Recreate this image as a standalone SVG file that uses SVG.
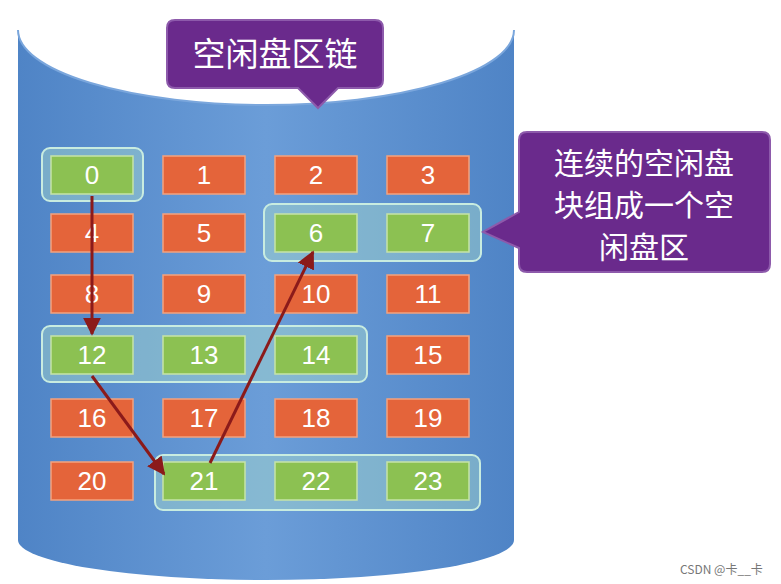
<svg xmlns="http://www.w3.org/2000/svg" width="781" height="584" viewBox="0 0 781 584">
<defs>
<linearGradient id="cyl" x1="0" x2="1" y1="0" y2="0">
<stop offset="0" stop-color="#4f84c6"/><stop offset="0.5" stop-color="#6b9dd8"/><stop offset="1" stop-color="#4f84c6"/>
</linearGradient>
<marker id="ah" viewBox="0 0 10 10" refX="9" refY="5" markerWidth="6" markerHeight="6" orient="auto"><path d="M0,0 L10,5 L0,10 z" fill="#8b1a1a"/></marker>
</defs>
<style>
.o{fill:#e4643a;stroke:#f3a27f;stroke-width:1.5}
.g{fill:#8cc152;stroke:#c6e4a8;stroke-width:1.5}
.t{font-family:"Liberation Sans",sans-serif;font-size:26px;fill:#fff;text-anchor:middle}
.grp{fill:#a8dccb;fill-opacity:0.45;stroke:#c8ece0;stroke-width:2}
.call{fill:#6a2a8c;stroke:#8d5aab;stroke-width:2}
.ct{font-family:"Noto Sans CJK SC",sans-serif;font-size:33px;fill:#fff;text-anchor:middle}
.cr{font-family:"Noto Sans CJK SC",sans-serif;font-size:30px;fill:#fff;text-anchor:middle}
.c{stroke:#8b1a1a;stroke-width:3;fill:none;marker-end:url(#ah)}
</style>
<rect width="781" height="584" fill="#fff"/>
<g id="cylinder">
<path d="M18,30 L18,540 A248,40 0 0 0 514,540 L514,30 Z" fill="url(#cyl)"/>
<ellipse cx="266" cy="30" rx="248" ry="75" fill="#fff"/>
<path d="M18,30 A248,75 0 0 0 514,30" fill="none" stroke="#7aa6dc" stroke-width="2"/>
</g>
<g id="groups">
<rect class="grp" x="42" y="148" width="101" height="53" rx="8"/>
<rect class="grp" x="264" y="204" width="217" height="57" rx="8"/>
<rect class="grp" x="42" y="326" width="325" height="56" rx="8"/>
<rect class="grp" x="155" y="455" width="325" height="55" rx="8"/>
</g>
<g id="cells">
<g id="n0"><rect class="g" x="51" y="156" width="82" height="38"/><text class="t" x="92" y="184">0</text></g>
<g id="n1"><rect class="o" x="163" y="156" width="82" height="38"/><text class="t" x="204" y="184">1</text></g>
<g id="n2"><rect class="o" x="275" y="156" width="82" height="38"/><text class="t" x="316" y="184">2</text></g>
<g id="n3"><rect class="o" x="387" y="156" width="82" height="38"/><text class="t" x="428" y="184">3</text></g>
<g id="n4"><rect class="o" x="51" y="214" width="82" height="38"/><text class="t" x="92" y="242">4</text></g>
<g id="n5"><rect class="o" x="163" y="214" width="82" height="38"/><text class="t" x="204" y="242">5</text></g>
<g id="n6"><rect class="g" x="275" y="214" width="82" height="38"/><text class="t" x="316" y="242">6</text></g>
<g id="n7"><rect class="g" x="387" y="214" width="82" height="38"/><text class="t" x="428" y="242">7</text></g>
<g id="n8"><rect class="o" x="51" y="275" width="82" height="38"/><text class="t" x="92" y="303">8</text></g>
<g id="n9"><rect class="o" x="163" y="275" width="82" height="38"/><text class="t" x="204" y="303">9</text></g>
<g id="n10"><rect class="o" x="275" y="275" width="82" height="38"/><text class="t" x="316" y="303">10</text></g>
<g id="n11"><rect class="o" x="387" y="275" width="82" height="38"/><text class="t" x="428" y="303">11</text></g>
<g id="n12"><rect class="g" x="51" y="336" width="82" height="38"/><text class="t" x="92" y="364">12</text></g>
<g id="n13"><rect class="g" x="163" y="336" width="82" height="38"/><text class="t" x="204" y="364">13</text></g>
<g id="n14"><rect class="g" x="275" y="336" width="82" height="38"/><text class="t" x="316" y="364">14</text></g>
<g id="n15"><rect class="o" x="387" y="336" width="82" height="38"/><text class="t" x="428" y="364">15</text></g>
<g id="n16"><rect class="o" x="51" y="399" width="82" height="38"/><text class="t" x="92" y="427">16</text></g>
<g id="n17"><rect class="o" x="163" y="399" width="82" height="38"/><text class="t" x="204" y="427">17</text></g>
<g id="n18"><rect class="o" x="275" y="399" width="82" height="38"/><text class="t" x="316" y="427">18</text></g>
<g id="n19"><rect class="o" x="387" y="399" width="82" height="38"/><text class="t" x="428" y="427">19</text></g>
<g id="n20"><rect class="o" x="51" y="462" width="82" height="38"/><text class="t" x="92" y="490">20</text></g>
<g id="n21"><rect class="g" x="163" y="462" width="82" height="38"/><text class="t" x="204" y="490">21</text></g>
<g id="n22"><rect class="g" x="275" y="462" width="82" height="38"/><text class="t" x="316" y="490">22</text></g>
<g id="n23"><rect class="g" x="387" y="462" width="82" height="38"/><text class="t" x="428" y="490">23</text></g>
</g>
<g id="connectors">
<line class="c" x1="92" y1="196" x2="92" y2="334"/>
<line class="c" x1="92" y1="376" x2="164" y2="474"/>
<line class="c" x1="210" y1="463" x2="313" y2="252"/>
</g>
<g id="callout-top">
<path class="call" d="M175,20 H375 Q383,20 383,28 V80 Q383,88 375,88 H338 L318,108 L298,88 H175 Q167,88 167,80 V28 Q167,20 175,20 Z"/>
<text class="ct" x="275" y="66">空闲盘区链</text>
</g>
<g id="callout-right">
<path class="call" d="M527,132 H762 Q770,132 770,140 V264 Q770,272 762,272 H527 Q519,272 519,264 V248 L483,232 L519,212 V140 Q519,132 527,132 Z"/>
<text class="cr" x="644" y="174">连续的空闲盘</text>
<text class="cr" x="644" y="216">块组成一个空</text>
<text class="cr" x="644" y="258">闲盘区</text>
</g>
<text x="680" y="574" font-family="'Noto Sans CJK SC',sans-serif" font-size="12" fill="#777">CSDN @卡__卡</text>
</svg>
